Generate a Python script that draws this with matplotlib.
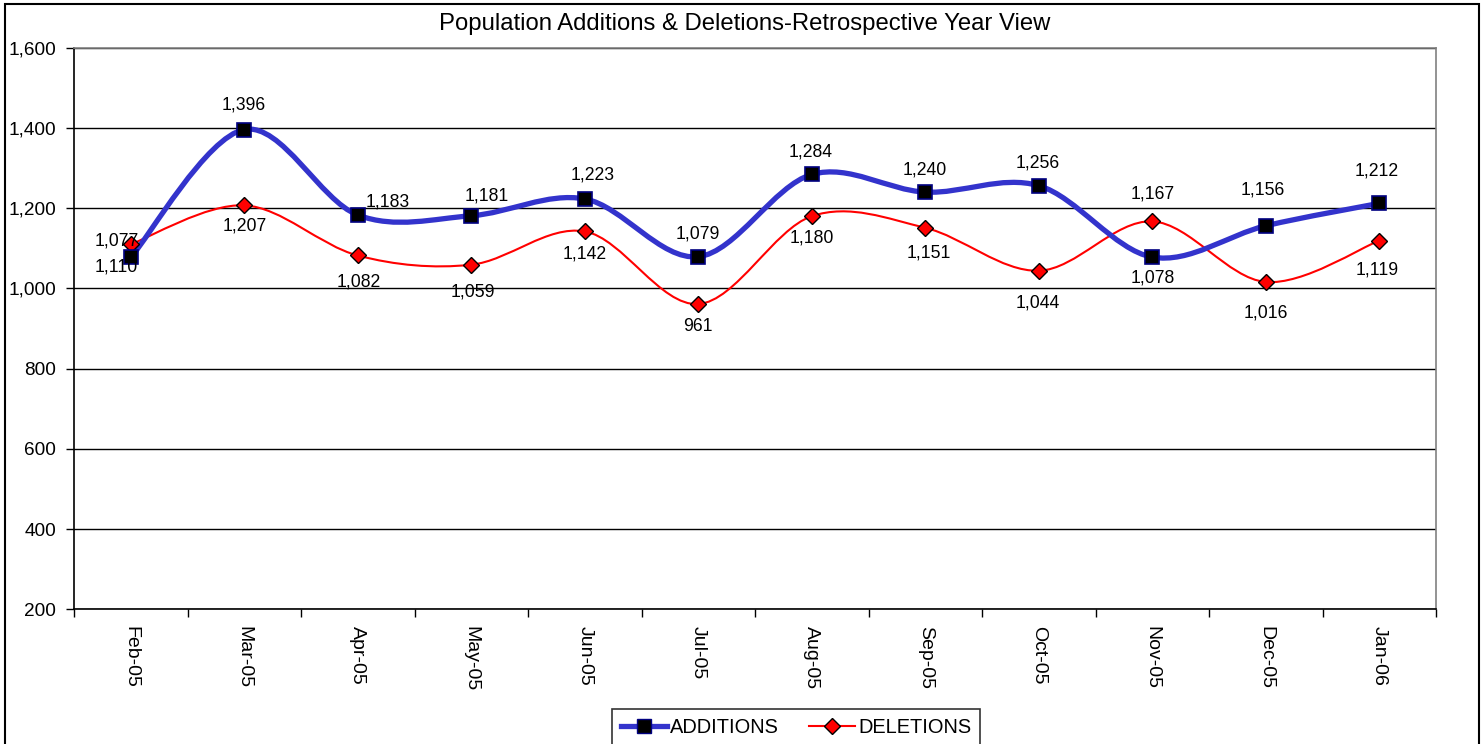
import numpy as np
import matplotlib
matplotlib.use('Agg')
import matplotlib.pyplot as plt
from matplotlib.path import Path
from matplotlib.patches import PathPatch, Rectangle
from matplotlib.lines import Line2D

plt.rcParams['font.family'] = ['Liberation Sans', 'DejaVu Sans']

# chart data
months = ['Feb-05', 'Mar-05', 'Apr-05', 'May-05', 'Jun-05', 'Jul-05',
          'Aug-05', 'Sep-05', 'Oct-05', 'Nov-05', 'Dec-05', 'Jan-06']
additions = [1077, 1396, 1183, 1181, 1223, 1079, 1284, 1240, 1256, 1078, 1156, 1212]
deletions = [1110, 1207, 1082, 1059, 1142, 961, 1180, 1151, 1044, 1167, 1016, 1119]
y_ticks = [200, 400, 600, 800, 1000, 1200, 1400, 1600]

# label offsets in pixels (dx, dy downward), as placed in the original
add_offsets = [(-14, -16), (-1, -25), (30, -13), (16, -20), (8, -24), (0, -23),
               (-1, -22), (-1, -22), (-1, -23), (0, 21), (-3, -36), (-3, -32)]
del_offsets = [(-14, 23), (0, 21), (1, 27), (2, 27), (0, 23), (0, 22),
               (0, 22), (4, 25), (-1, 32), (0, -27), (0, 31), (-2, 29)]


def smooth_path(xs, ys):
    # excel-like smoothed line: cubic bezier segments through the points
    pts = np.column_stack([xs, ys]).astype(float)
    n = len(pts)
    verts = [pts[0]]
    codes = [Path.MOVETO]
    for i in range(n - 1):
        p0 = pts[i - 1] if i > 0 else pts[i]
        p1 = pts[i]
        p2 = pts[i + 1]
        p3 = pts[i + 2] if i + 2 < n else pts[i + 1]
        c1 = p1 + (p2 - p0) / 6.0
        c2 = p2 - (p3 - p1) / 6.0
        verts += [c1, c2, p2]
        codes += [Path.CURVE4] * 3
    return Path(verts, codes)


fig = plt.figure(figsize=(14.84, 7.44), dpi=100)
ax = fig.add_axes([74 / 1484, 1 - 609.3 / 744, (1436 - 74) / 1484, (609.3 - 47.7) / 744])

x = np.arange(len(months))

blue = '#3333CC'
ax.add_patch(PathPatch(smooth_path(x, deletions), facecolor='none', edgecolor='red',
                       lw=1.5, zorder=3))
ax.add_patch(PathPatch(smooth_path(x, additions), facecolor='none', edgecolor=blue,
                       lw=3.8, zorder=4, capstyle='round'))
ax.plot(x, deletions, linestyle='none', marker='D', markersize=8,
        markerfacecolor='red', markeredgecolor='black', markeredgewidth=1.0, zorder=5)
ax.plot(x, additions, linestyle='none', marker='s', markersize=10.5,
        markerfacecolor='black', markeredgecolor='#000080', markeredgewidth=1.2, zorder=6)

for i in range(len(months)):
    dx, dy = add_offsets[i]
    ax.annotate('{:,}'.format(additions[i]), (x[i], additions[i]), xytext=(dx, -dy),
                textcoords='offset pixels', ha='center', va='center', fontsize=12.7, zorder=7)
    dx, dy = del_offsets[i]
    ax.annotate('{:,}'.format(deletions[i]), (x[i], deletions[i]), xytext=(dx, -dy),
                textcoords='offset pixels', ha='center', va='center', fontsize=12.7, zorder=7)

ax.set_xlim(-0.5, len(months) - 0.5)
ax.set_ylim(200, 1600)
ax.set_yticks(y_ticks)
ax.set_yticklabels(['{:,}'.format(v) for v in y_ticks])
ax.yaxis.grid(True, color='black', lw=1.0)
ax.set_axisbelow(True)

# category boundaries carry the tick marks, centres carry the labels
ax.set_xticks(np.arange(len(months) + 1) - 0.5)
ax.set_xticklabels([])
ax.set_xticks(x, minor=True)
ax.set_xticklabels(months, minor=True, rotation=270, va='top', ha='center', fontsize=14)
ax.tick_params(axis='x', which='major', length=6, width=1, direction='out', color='black')
ax.tick_params(axis='x', which='minor', length=0, pad=12)
ax.tick_params(axis='y', length=6, width=1, direction='out', labelsize=13.7, pad=7)

for s in ['left', 'bottom']:
    ax.spines[s].set_color('black')
    ax.spines[s].set_linewidth(1.2)
for s in ['top', 'right']:
    ax.spines[s].set_color('#808080')
    ax.spines[s].set_linewidth(1.2)

fig.text(744.5 / 1484, 1 - 24 / 744, 'Population Additions & Deletions-Retrospective Year View',
         ha='center', va='center', fontsize=17.2)

handles = [
    Line2D([], [], color=blue, lw=3.8, marker='s', markersize=10.5,
           markerfacecolor='black', markeredgecolor='#000080'),
    Line2D([], [], color='red', lw=1.5, marker='D', markersize=8,
           markerfacecolor='red', markeredgecolor='black'),
]
leg = fig.legend(handles, ['ADDITIONS', 'DELETIONS'], loc='upper center',
                 bbox_to_anchor=(796 / 1484, 1 - 709 / 744), ncol=2, fontsize=14.4,
                 frameon=True, fancybox=False, edgecolor='black', handlelength=2.3,
                 handletextpad=0.15, columnspacing=1.5, borderpad=0.45, borderaxespad=0)
leg.get_frame().set_linewidth(1.2)

# outer chart border
fig.patches.append(Rectangle((5 / 1484, -0.02), (1479 - 5) / 1484, 1.02 - 4 / 744,
                             transform=fig.transFigure, fill=False,
                             edgecolor='black', lw=1.5))

fig.savefig('out.png', dpi=100)
